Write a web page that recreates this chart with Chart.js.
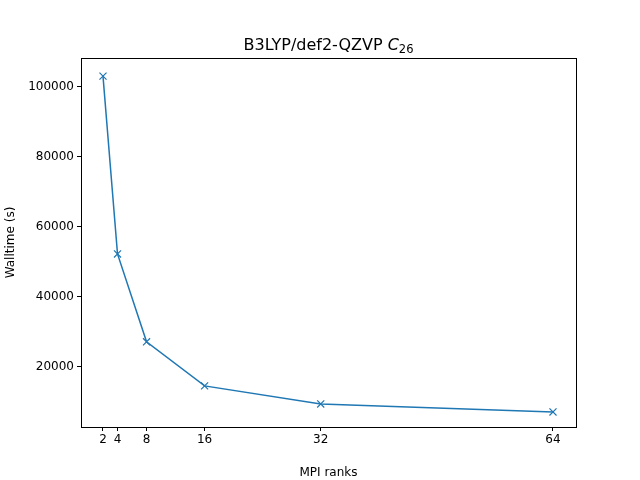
<!DOCTYPE html>
<html><head><script src="https://cdn.jsdelivr.net/npm/chart.js@4"></script>
<style>body{margin:0;background:#fff}</style></head>
<body><canvas id="c" width="640" height="480"></canvas>
<script>
const ranks = [2, 4, 8, 16, 32, 64];
const walltime = [103100, 52300, 27200, 14600, 9450, 7150];
const xTicks = [2, 4, 8, 16, 32, 64];
const yTicks = [20000, 40000, 60000, 80000, 100000];

const frame = {
  id: 'frame',
  afterDraw(chart) {
    const {ctx, chartArea: a} = chart;
    ctx.save();
    ctx.strokeStyle = '#000'; ctx.lineWidth = 1;
    ctx.strokeRect(a.left + 0.5, a.top + 0.5, a.right - a.left, a.bottom - a.top);
    ctx.fillStyle = '#000';
    ctx.textBaseline = 'alphabetic';
    const base = 'B3LYP/def2-QZVP ';
    ctx.font = '16px "DejaVu Sans"';
    const w1 = ctx.measureText(base).width;
    ctx.font = 'italic 16px "DejaVu Sans"';
    const w2 = ctx.measureText('C').width;
    ctx.font = '11.5px "DejaVu Sans"';
    const w3 = ctx.measureText('26').width;
    const total = w1 + w2 + w3;
    let x = (a.left + a.right) / 2 - total / 2;
    const y = 50;
    ctx.font = '16px "DejaVu Sans"'; ctx.fillText(base, x, y); x += w1;
    ctx.font = 'italic 16px "DejaVu Sans"'; ctx.fillText('C', x, y); x += w2;
    ctx.font = '11.5px "DejaVu Sans"'; ctx.fillText('26', x, y + 3);
    ctx.restore();
  }
};

new Chart(document.getElementById('c'), {
  type: 'line',
  data: { datasets: [{
    data: ranks.map((r, i) => ({x: r, y: walltime[i]})),
    borderColor: '#1f77b4', backgroundColor: '#1f77b4',
    borderWidth: 1.5, pointStyle: 'cross', pointRotation: 45,
    pointRadius: 5, pointBorderWidth: 1.2, tension: 0
  }]},
  options: {
    responsive: false, animation: false,
    layout: { padding: { left: 0, right: 64, top: 58, bottom: 0 } },
    plugins: { legend: { display: false }, tooltip: { enabled: false } },
    scales: {
      x: {
        type: 'linear', min: -1.03, max: 67.17,
        afterBuildTicks: s => { s.ticks = xTicks.map(v => ({value: v})); },
        afterFit: s => { s.height = 53; },
        grid: { drawOnChartArea: false, tickLength: 4, color: '#000' },
        border: { color: '#000' },
        ticks: { color: '#000', font: { family: 'DejaVu Sans', size: 12 }, maxRotation: 0, autoSkip: false, padding: 2 },
        title: { display: true, text: 'MPI ranks', color: '#000', font: { family: 'DejaVu Sans', size: 12 }, padding: { top: -3, bottom: 0 } }
      },
      y: {
        min: 2857, max: 108285,
        afterBuildTicks: s => { s.ticks = yTicks.map(v => ({value: v})); },
        afterFit: s => { s.width = 81; },
        grid: { drawOnChartArea: false, tickLength: 4, color: '#000' },
        border: { color: '#000' },
        ticks: { color: '#000', font: { family: 'DejaVu Sans', size: 12 }, padding: 3, callback: v => String(v) },
        title: { display: true, text: 'Walltime (s)', color: '#000', font: { family: 'DejaVu Sans', size: 12 }, padding: { bottom: 0 } }
      }
    }
  },
  plugins: [frame]
});
</script></body></html>
